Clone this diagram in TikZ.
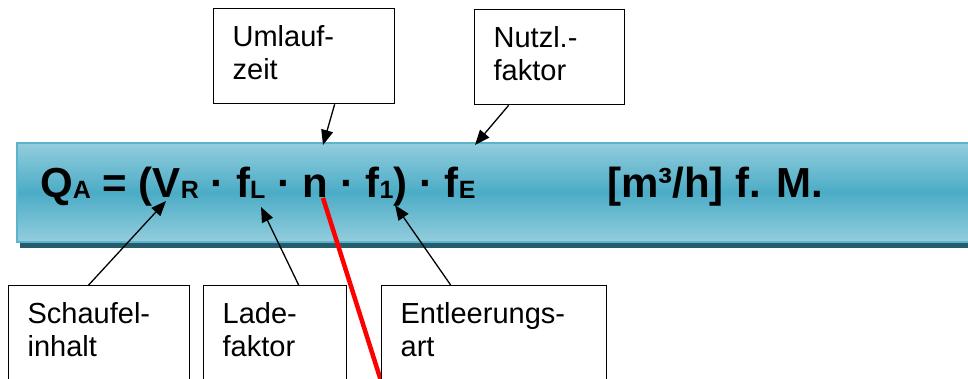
\documentclass[tikz,border=0pt]{standalone}
\usepackage{fontspec}
\setmainfont{Liberation Sans}
\usetikzlibrary{arrows.meta}
\definecolor{bandlight}{HTML}{93CDDD}
\definecolor{banddark}{HTML}{4BACC6}
\definecolor{bandedge}{HTML}{5BB4CB}
\definecolor{bandshadow}{HTML}{245C6B}
\newcommand{\lowsub}[1]{\raisebox{-1pt}{\fontsize{25}{25}\selectfont #1}}

\begin{document}
\begin{tikzpicture}[
  x=1pt, y=-1pt,
  infobox/.style={draw, line width=1.3pt, fill=white, align=left, anchor=north west,
    text width=#1, text depth=41pt, minimum height=95pt, inner xsep=19pt,
    font=\fontsize{29}{33}\selectfont},
  eq/.style={anchor=base west, inner sep=0pt,
    font=\fontsize{42}{42}\selectfont\bfseries},
  ptr/.style={-{Triangle[length=15pt, width=12pt]}, line width=1.3pt},
  redline/.style={red, line width=4.5pt},
]
  \clip (0,0) rectangle (968,378);

  % Formula band with drop shadow
  \fill[bandshadow] (20,149) rectangle (990,248);
  \path[top color=bandlight, bottom color=bandlight, middle color=banddark,
        draw=bandedge, line width=1.5pt] (17,143) rectangle (990,242);

  \node[eq] (formula) at (40,197)
    {Q\lowsub{A} = (V\lowsub{R} · f\lowsub{L} · n · f\lowsub{1}) · f\lowsub{E}};
  \node[eq] (unit) at (607,197) {[m³/h] f. M.};

  % Points in the formula
  \coordinate (tipN) at (323,145);
  \coordinate (tipE) at (475,145);
  \coordinate (tipV) at (166,201);
  \coordinate (tipL) at (261,207);
  \coordinate (tipF) at (395,205);
  \coordinate (redtop) at (323,198);
  \coordinate (redend) at (382,384);

  \draw[redline] (redtop) -- (redend);

  % Labels
  \node[infobox=143pt] (umlauf)   at (213,8)   {Umlauf-\\zeit};
  \node[infobox=112pt] (nutzl)    at (474,9)   {Nutzl.-\\faktor};
  \node[infobox=143pt] (schaufel) at (8,285)   {Schaufel-\\inhalt};
  \node[infobox=105pt] (lade)     at (203,285) {Lade-\\faktor};
  \node[infobox=187pt] (entleer)  at (381,285) {Entleerungs-\\art};

  % Pointers
  \foreach \a/\s/\b in {umlauf.south/30.5/tipN, nutzl.south/-41/tipE,
      schaufel.north/-10.5/tipV, lade.north/23.5/tipL, entleer.north/-43.5/tipF}
    \draw[ptr] ([xshift=\s pt]\a) -- (\b);
\end{tikzpicture}
\end{document}
